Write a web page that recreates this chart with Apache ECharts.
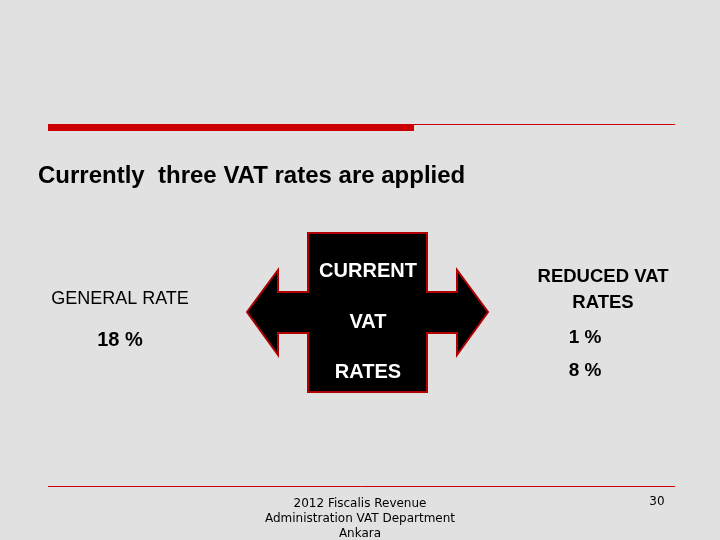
<!DOCTYPE html>
<html><head><meta charset="utf-8">
<script src="https://cdn.jsdelivr.net/npm/echarts@6/dist/echarts.min.js"></script>
<style>html,body{margin:0;padding:0;background:#e1e1e1}#c{width:720px;height:540px}</style>
</head><body><div id="c"></div>
<script>
const title = 'Currently  three VAT rates are applied';
const generalLabel = 'GENERAL RATE';
const generalRates = [18];
const centerWords = ['CURRENT', 'VAT', 'RATES'];
const reducedLabel = ['REDUCED VAT', 'RATES'];
const reducedRates = [1, 8];
const footer = '2012 Fiscalis Revenue\nAdministration VAT Department\nAnkara';
const pageNo = '30';

const chart = echarts.init(document.getElementById('c'));
const f = 'Liberation Sans, Arial, sans-serif';
const g = [];
g.push({type:'rect', shape:{x:48,y:124,width:366,height:7}, style:{fill:'#cc0000'}});
g.push({type:'line', shape:{x1:414,y1:124.5,x2:675,y2:124.5}, style:{stroke:'#cc0000',lineWidth:1}});
g.push({type:'line', shape:{x1:48,y1:486.5,x2:675,y2:486.5}, style:{stroke:'#cc0000',lineWidth:1}});
g.push({type:'text', x:38, y:176, style:{text:title, font:'bold 24px '+f, fill:'#000', textVerticalAlign:'middle'}});
g.push({type:'polygon', shape:{points:[[247,312],[278,270],[278,292],[308,292],[308,233],[427,233],[427,292],[457,292],[457,270],[488,312],[457,355],[457,333],[427,333],[427,392],[308,392],[308,333],[278,333],[278,355]]},
  style:{fill:'#000', stroke:'#b00000', lineWidth:2}});
const cy = [271, 322, 372];
centerWords.forEach((w,i)=>g.push({type:'text', x:368, y:cy[i], style:{text:w, font:'bold 20px '+f, fill:'#fff', textAlign:'center', textVerticalAlign:'middle'}}));
g.push({type:'text', x:120, y:299, style:{text:generalLabel, font:'18px '+f, fill:'#000', textAlign:'center', textVerticalAlign:'middle'}});
generalRates.forEach((r,i)=>g.push({type:'text', x:120, y:340, style:{text:r+' %', font:'bold 20px '+f, fill:'#000', textAlign:'center', textVerticalAlign:'middle'}}));
reducedLabel.forEach((t,i)=>g.push({type:'text', x:603, y:277+i*26, style:{text:t, font:'bold 18.5px '+f, fill:'#000', textAlign:'center', textVerticalAlign:'middle'}}));
reducedRates.forEach((r,i)=>g.push({type:'text', x:585, y:338+i*33, style:{text:r+' %', font:'bold 19px '+f, fill:'#000', textAlign:'center', textVerticalAlign:'middle'}}));
g.push({type:'text', x:360, y:496, style:{text:footer, font:'12px DejaVu Sans, sans-serif', fill:'#000', textAlign:'center', lineHeight:15}});
g.push({type:'text', x:657, y:502, style:{text:pageNo, font:'12px DejaVu Sans, sans-serif', fill:'#000', textAlign:'center', textVerticalAlign:'middle'}});
chart.setOption({backgroundColor:'#e1e1e1', animation:false, graphic:{elements:g}});
</script></body></html>
